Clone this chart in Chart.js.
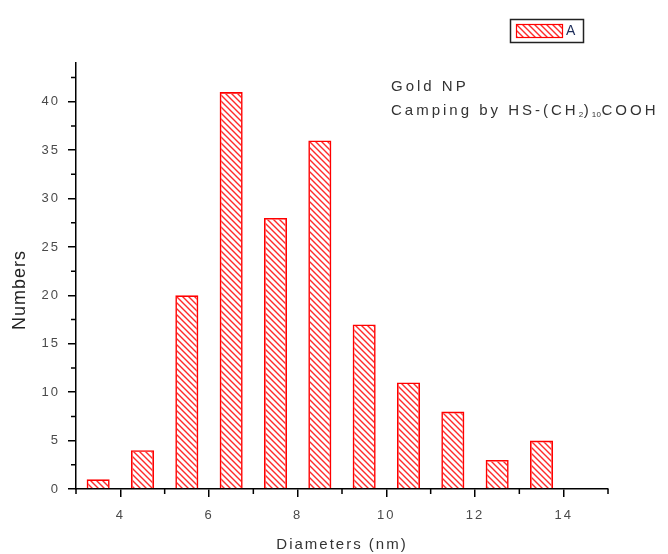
<!DOCTYPE html>
<html>
<head>
<meta charset="utf-8">
<title>Gold NP size distribution</title>
<script src="https://cdn.jsdelivr.net/npm/chart.js@4.4.1/dist/chart.umd.min.js"></script>
<style>
  html, body { margin: 0; padding: 0; background: #fff; }
  #wrap { width: 668px; height: 554px; }
</style>
</head>
<body>
<div id="wrap"><canvas id="c" width="668" height="554"></canvas></div>
<script>
// Histogram of particle diameters (bin centres, nm) and counts per bin
const diameters = [3.5, 4.5, 5.5, 6.5, 7.5, 8.5, 9.5, 10.5, 11.5, 12.5, 13.5];
const counts = [1, 4, 20, 41, 28, 36, 17, 11, 8, 3, 5];
const seriesName = 'A';

// Axis tick values
const xMajorTicks = [4, 6, 8, 10, 12, 14];
const xMinorTicks = [3, 5, 7, 9, 11, 13, 15];
const yMajorTicks = [0, 5, 10, 15, 20, 25, 30, 35, 40];
const yMinorTicks = [2.5, 7.5, 12.5, 17.5, 22.5, 27.5, 32.5, 37.5, 42.5];

// Axis titles
const xTitle = 'Diameters (nm)';
const yTitle = 'Numbers';

// Note text; [text, isSubscript]
const noteTitle = 'Gold NP';
const noteCapping = [['Camping by HS-(CH', false], ['2', true], [')', false], ['10', true], ['COOH', false]];

const FONT = "'Liberation Sans', Arial, sans-serif";
Chart.defaults.font.family = FONT;

// Diagonal "\" hatch fill
function hatch(color) {
  const s = 6;
  const tile = document.createElement('canvas');
  tile.width = s; tile.height = s;
  const g = tile.getContext('2d');
  g.strokeStyle = color;
  g.lineWidth = 1.4;
  g.beginPath();
  g.moveTo(0, 0); g.lineTo(s, s);
  g.moveTo(-1, s - 1); g.lineTo(1, s + 1);
  g.moveTo(s - 1, -1); g.lineTo(s + 1, 1);
  g.stroke();
  return g.createPattern(tile, 'repeat');
}

// Wide letter spacing for the tick labels and axis titles
const spacing = {
  id: 'spacing',
  beforeDraw(chart) { chart.ctx.letterSpacing = '2px'; }
};

// Short minor tick marks between the labelled ones
const minorTicks = {
  id: 'minorTicks',
  afterDraw(chart) {
    const { ctx, scales: { x, y } } = chart;
    ctx.save();
    ctx.strokeStyle = '#000';
    ctx.lineWidth = 1.5;
    ctx.beginPath();
    xMinorTicks.forEach(v => {
      const px = x.getPixelForValue(v);
      ctx.moveTo(px, x.top);
      ctx.lineTo(px, x.top + 5);
    });
    yMinorTicks.forEach(v => {
      const py = y.getPixelForValue(v);
      ctx.moveTo(y.right, py);
      ctx.lineTo(y.right - 5, py);
    });
    ctx.stroke();
    ctx.restore();
  }
};

// Vertical y-axis title, set a little below the middle of the axis
const yAxisTitle = {
  id: 'yAxisTitle',
  afterDraw(chart) {
    const ctx = chart.ctx;
    ctx.save();
    ctx.letterSpacing = '1px';
    ctx.translate(20, 290);
    ctx.rotate(-Math.PI / 2);
    ctx.fillStyle = '#222';
    ctx.font = '18px ' + FONT;
    ctx.textAlign = 'center';
    ctx.textBaseline = 'middle';
    ctx.fillText(yTitle, 0, 0);
    ctx.restore();
  }
};

// Framed legend box in the top right corner
const boxLegend = {
  id: 'boxLegend',
  afterDraw(chart) {
    const ctx = chart.ctx;
    const ds = chart.data.datasets[0];
    ctx.save();
    ctx.letterSpacing = '0px';
    ctx.strokeStyle = '#222';
    ctx.lineWidth = 1.5;
    ctx.strokeRect(510.5, 19.5, 73, 23);
    ctx.fillStyle = ds.backgroundColor;
    ctx.fillRect(516, 24, 46, 14);
    ctx.strokeStyle = ds.borderColor;
    ctx.lineWidth = 1.2;
    ctx.strokeRect(516.5, 24.5, 46, 13);
    ctx.fillStyle = '#1c2c5a';
    ctx.font = '14px ' + FONT;
    ctx.textBaseline = 'middle';
    ctx.fillText(ds.label, 566, 31.5);
    ctx.restore();
  }
};

// Sample description in the upper right of the plot
const note = {
  id: 'note',
  afterDraw(chart) {
    const ctx = chart.ctx;
    ctx.save();
    ctx.fillStyle = '#333';
    ctx.textBaseline = 'middle';
    ctx.letterSpacing = '3px';
    ctx.font = '15px ' + FONT;
    ctx.fillText(noteTitle, 391, 87);
    let x = 391;
    noteCapping.forEach(([txt, sub]) => {
      ctx.font = (sub ? '8px ' : '15px ') + FONT;
      ctx.letterSpacing = sub ? '0.5px' : '3px';
      ctx.fillText(txt, x, sub ? 115 : 111);
      x += ctx.measureText(txt).width;
    });
    ctx.restore();
  }
};

new Chart(document.getElementById('c'), {
  type: 'bar',
  data: {
    datasets: [{
      label: seriesName,
      data: diameters.map((d, i) => ({ x: d, y: counts[i] })),
      backgroundColor: hatch('#ff2b2b'),
      borderColor: '#ff0000',
      borderWidth: 1.6,
      barPercentage: 0.52,
      categoryPercentage: 1
    }]
  },
  options: {
    responsive: false,
    animation: false,
    devicePixelRatio: 1,
    layout: { padding: { top: 63, right: 60, bottom: 0, left: 0 } },
    plugins: {
      legend: { display: false },
      tooltip: { enabled: false }
    },
    scales: {
      x: {
        type: 'linear',
        min: 3,
        max: 15,
        offset: false,
        afterBuildTicks: s => { s.ticks = xMajorTicks.map(v => ({ value: v })); },
        afterFit: s => { s.height = 65; },
        grid: { offset: false, drawOnChartArea: false, drawTicks: true, tickLength: 8, color: '#000', lineWidth: 1.5 },
        border: { display: true, color: '#000', width: 1.5 },
        ticks: { color: '#4a4a4a', font: { size: 13 }, padding: 11, maxRotation: 0, autoSkip: false },
        title: { display: true, text: xTitle, color: '#333', font: { size: 15 }, padding: { top: 0, bottom: 0 } }
      },
      y: {
        min: 0,
        max: 44,
        afterBuildTicks: s => { s.ticks = yMajorTicks.map(v => ({ value: v })); },
        afterFit: s => { s.width = 76; },
        grid: { drawOnChartArea: false, drawTicks: true, tickLength: 8, color: '#000', lineWidth: 1.5 },
        border: { display: true, color: '#000', width: 1.5 },
        ticks: { color: '#4a4a4a', font: { size: 13 }, padding: 8, autoSkip: false },
        title: { display: false }
      }
    }
  },
  plugins: [spacing, minorTicks, yAxisTitle, boxLegend, note]
});
</script>
</body>
</html>
